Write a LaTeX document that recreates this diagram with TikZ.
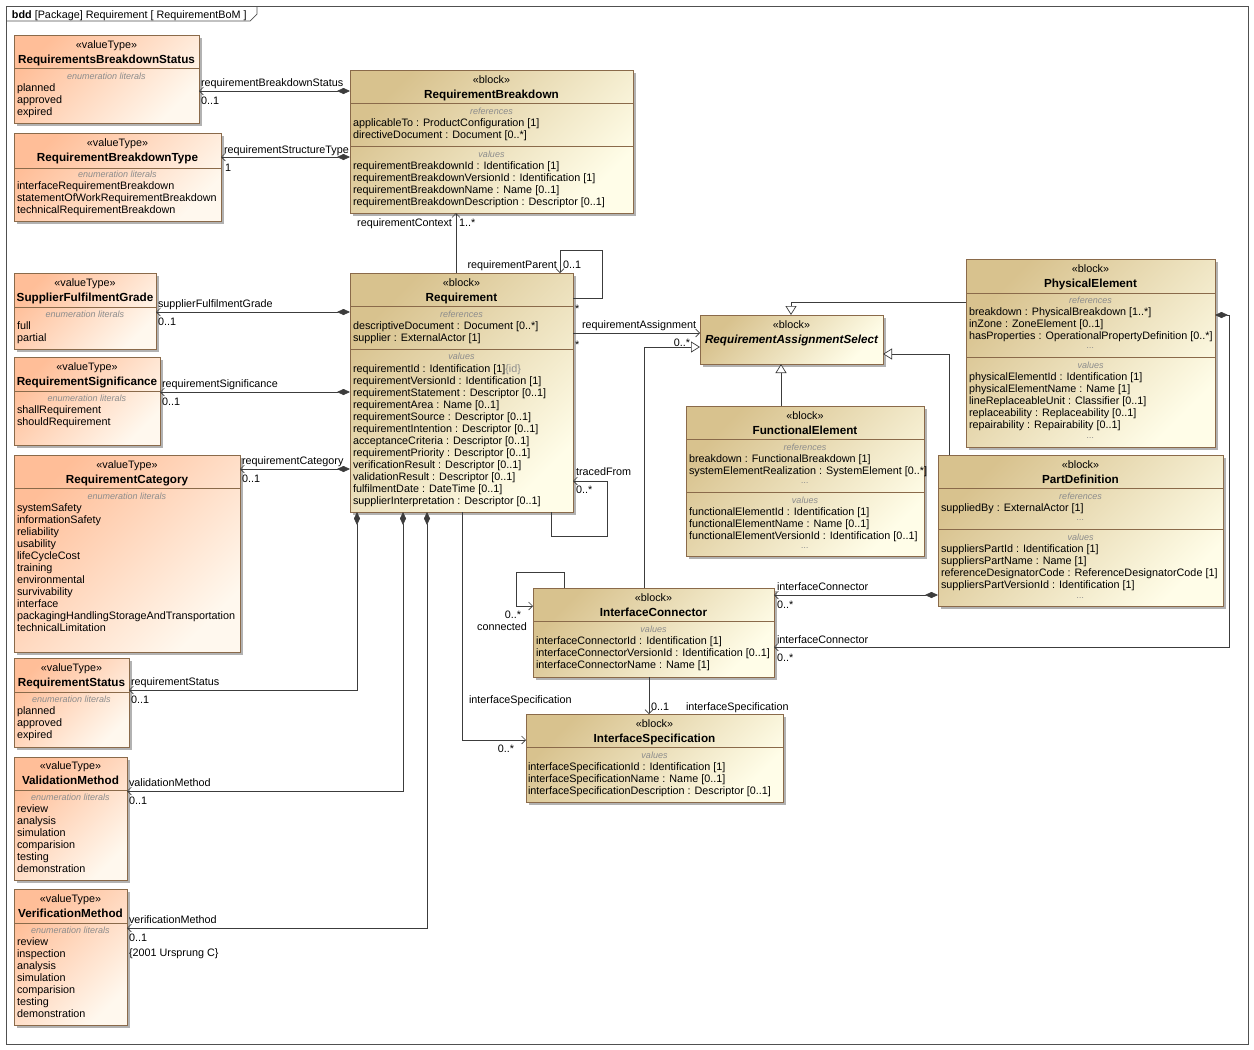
\documentclass[tikz,border=0pt]{standalone}
\usepackage{fontspec}
\setmainfont{Liberation Sans}
\usetikzlibrary{arrows.meta,shadows}
\definecolor{vtA}{HTML}{FFBE98}
\definecolor{vtB}{HTML}{FFF8EE}
\definecolor{blA}{HTML}{D8C28E}
\definecolor{blB}{HTML}{FFFDE8}
\definecolor{bord}{HTML}{8A6A4A}
\definecolor{lgray}{HTML}{8C8C8C}
\definecolor{lnc}{HTML}{3C3C3C}
\definecolor{frc}{HTML}{505050}
\newcounter{tn}
\newcommand\bfont{\fontsize{11.7}{12}\selectfont\bfseries}
\newcommand\Tl[3]{\stepcounter{tn}\node[txt,anchor=base west] (t\arabic{tn}) at (#1,#2+4) {#3};}
\newcommand\Tr[3]{\stepcounter{tn}\node[txt,anchor=base east] (t\arabic{tn}) at (#1,#2+4) {#3};}
\newcommand\Tc[3]{\stepcounter{tn}\node[txt,anchor=base] (t\arabic{tn}) at (#1.north |- 0,#2+4) {#3};}
\newcommand\Tb[3]{\stepcounter{tn}\node[txt,anchor=base,font=\bfont] (t\arabic{tn}) at (#1.north |- 0,#2+4) {#3};}
\newcommand\Tk[3]{\stepcounter{tn}\node[cmp,anchor=base] (t\arabic{tn}) at (#1.north |- 0,#2+3) {#3};}
\newcommand\Tls[3]{\foreach \s [count=\i from 0] in {#3}{\Tl{#1}{#2+12*\i}{\s}}}
\newcommand\mkbox[6]{\node[#1,minimum width={#5-#3},minimum height={#6-#4},anchor=north west] (#2) at (#3,#4) {};}
\newcommand\cmpsep[2]{\draw[bordline] (#1.west |- 0,#2) -- (#1.east |- 0,#2);}
\begin{document}
\begin{tikzpicture}[x=1pt,y=-1pt,
  vt/.style={draw=bord,line width=0.8pt,left color=vtA,right color=vtB,shading angle=45,inner sep=0,outer sep=0,
    drop shadow={shadow xshift=3pt,shadow yshift=-3pt,fill=black,opacity=0.3}},
  bl/.style={vt,left color=blA,right color=blB,shading angle=45},
  bordline/.style={draw=bord,line width=0.8pt},
  txt/.style={inner sep=0,outer sep=0,font=\fontsize{10.8}{12}\selectfont,text=black},
  cmp/.style={txt,font=\fontsize{9}{10}\selectfont\itshape,text=lgray},
  ln/.style={draw=lnc,line width=0.7pt},
  comp/.style={ln,{Diamond[length=13pt,width=6pt,fill=lnc]}-{Straight Barb[length=4pt,width=8pt,line width=0.6pt]}},
  assoc/.style={ln,-{Straight Barb[length=4pt,width=8pt,line width=0.6pt]}},
  gen/.style={ln,-{Triangle[length=9pt,width=11pt,fill=white]}}
]
\useasboundingbox (0,0) rectangle (1254,1050);
\fill[white] (0,0) rectangle (1254,1050);
% frame
\draw[frc,line width=0.7pt] (6,6) rectangle (1248,1044);
\draw[frc,line width=0.7pt] (6,21) -- (250,21) -- (257,14) -- (257,6);
\node[txt,anchor=base west] (title) at (12,18) {\textbf{bdd} [Package] Requirement [ RequirementBoM ]};

% boxes
\mkbox{vt}{rbs}{14}{35}{199}{123}
\mkbox{vt}{rbt}{14}{133}{221}{221}
\mkbox{bl}{rb}{350}{70}{633}{213}
\mkbox{vt}{sfg}{14}{273}{156}{349}
\mkbox{vt}{rsig}{14}{357}{160}{445}
\mkbox{vt}{rcat}{14}{455}{240}{652}
\mkbox{vt}{rst}{14}{658}{129}{747}
\mkbox{vt}{valm}{14}{757}{127}{880}
\mkbox{vt}{verm}{14}{889}{127}{1025}
\mkbox{bl}{req}{350}{273}{573}{512}
\mkbox{bl}{ras}{700}{315}{883}{364}
\mkbox{bl}{fe}{686}{406}{924}{556}
\mkbox{bl}{pe}{966}{259}{1215}{447}
\mkbox{bl}{pd}{938}{455}{1223}{606}
\mkbox{bl}{ic}{533}{588}{774}{677}
\mkbox{bl}{is}{526}{714}{783}{802}

% compartments
\cmpsep{rbs}{68} \cmpsep{rbt}{168}
\cmpsep{rb}{103} \cmpsep{rb}{146}
\cmpsep{sfg}{307} \cmpsep{rsig}{391} \cmpsep{rcat}{488}
\cmpsep{rst}{692} \cmpsep{valm}{790} \cmpsep{verm}{923}
\cmpsep{req}{306} \cmpsep{req}{349}
\cmpsep{fe}{439} \cmpsep{fe}{492}
\cmpsep{pe}{293} \cmpsep{pe}{357}
\cmpsep{pd}{488} \cmpsep{pd}{529}
\cmpsep{ic}{621} \cmpsep{is}{747}

% connectors
\draw[comp] (rb.west |- 0,91) -- (rbs.east |- 0,91);
\draw[comp] (rb.west |- 0,157) -- (rbt.east |- 0,157);
\draw[assoc] (req.north -| 456,0) -- (rb.south -| 456,0);
\draw[assoc] (req.east |- 0,298) -| (602,250) -| (req.north -| 560,0);
\draw[assoc] (req.east |- 0,333) -- (ras.west |- 0,333);
\draw[gen] (pe.west |- 0,302) -| (ras.north -| 791,0);
\draw[gen] (fe.north -| 781,0) -- (ras.south -| 781,0);
\draw[gen] (pd.north -| 949,0) |- (ras.east |- 0,354);
\draw[gen] (ic.north -| 644,0) |- (ras.west |- 0,347);
\draw[assoc] (req.south -| 551,0) |- (607,536) |- (req.east |- 0,481);
\draw[comp] (req.west |- 0,312) -- (sfg.east |- 0,312);
\draw[comp] (req.west |- 0,392) -- (rsig.east |- 0,392);
\draw[comp] (req.west |- 0,469) -- (rcat.east |- 0,469);
\draw[comp] (req.south -| 357,0) |- (rst.east |- 0,690);
\draw[comp] (req.south -| 403,0) |- (valm.east |- 0,791);
\draw[comp] (req.south -| 427,0) |- (verm.east |- 0,928);
\draw[assoc] (req.south -| 462,0) |- (is.west |- 0,740);
\draw[assoc] (ic.north -| 564,0) |- (516,572) |- (ic.west |- 0,606);
\draw[comp] (pd.west |- 0,595) -- (ic.east |- 0,595);
\draw[comp] (pe.east |- 0,315) -- (1229,315) |- (ic.east |- 0,647);
\draw[assoc] (ic.south -| 649,0) -- (is.north -| 649,0);

% connector labels
\Tl{201}{82}{requirementBreakdownStatus} \Tl{201}{100}{0..1}
\Tl{224}{149}{requirementStructureType} \Tl{225}{167}{1}
\Tr{452}{222}{requirementContext} \Tl{459}{222}{1..*}
\Tr{557}{264}{requirementParent} \Tl{563}{264}{0..1}
\Tl{575}{308}{*} \Tl{575}{344}{*}
\Tl{582}{324}{requirementAssignment}
\Tr{690}{342}{0..*}
\Tl{158}{303}{supplierFulfilmentGrade} \Tl{158}{321}{0..1}
\Tl{162}{383}{requirementSignificance} \Tl{162}{401}{0..1}
\Tl{242}{460}{requirementCategory} \Tl{242}{478}{0..1}
\Tl{576}{471}{tracedFrom} \Tl{576}{489}{0..*}
\Tl{131}{681}{requirementStatus} \Tl{131}{699}{0..1}
\Tl{129}{782}{validationMethod} \Tl{129}{800}{0..1}
\Tl{129}{919}{verificationMethod} \Tl{129}{937}{0..1}
\Tl{129}{952}{\{2001 Ursprung C\}}
\Tl{469}{699}{interfaceSpecification} \Tr{514}{748}{0..*}
\Tr{521}{614}{0..*} \Tr{527}{626}{connected}
\Tl{777}{586}{interfaceConnector} \Tl{777}{604}{0..*}
\Tl{777}{639}{interfaceConnector} \Tl{777}{657}{0..*}
\Tl{651}{706}{0..1} \Tl{686}{706}{interfaceSpecification}

% box texts
\Tc{rbs}{44}{«valueType»} \Tb{rbs}{59}{RequirementsBreakdownStatus} \Tk{rbs}{76}{enumeration literals}
\Tls{17}{87}{planned,approved,expired}

\Tc{rbt}{142}{«valueType»} \Tb{rbt}{157}{RequirementBreakdownType} \Tk{rbt}{174}{enumeration literals}
\Tls{17}{185}{interfaceRequirementBreakdown,statementOfWorkRequirementBreakdown,technicalRequirementBreakdown}

\Tc{rb}{79}{«block»} \Tb{rb}{94}{RequirementBreakdown} \Tk{rb}{111}{references}
\Tls{353}{122}{applicableTo : ProductConfiguration [1],directiveDocument : Document [0..*]}
\Tk{rb}{154}{values}
\Tls{353}{165}{requirementBreakdownId : Identification [1],requirementBreakdownVersionId : Identification [1],requirementBreakdownName : Name [0..1],requirementBreakdownDescription : Descriptor [0..1]}

\Tc{sfg}{282}{«valueType»} \Tb{sfg}{297}{SupplierFulfilmentGrade} \Tk{sfg}{314}{enumeration literals}
\Tls{17}{325}{full,partial}

\Tc{rsig}{366}{«valueType»} \Tb{rsig}{381}{RequirementSignificance} \Tk{rsig}{398}{enumeration literals}
\Tls{17}{409}{shallRequirement,shouldRequirement}

\Tc{rcat}{464}{«valueType»} \Tb{rcat}{479}{RequirementCategory} \Tk{rcat}{496}{enumeration literals}
\Tls{17}{507}{systemSafety,informationSafety,reliability,usability,lifeCycleCost,training,environmental,survivability,interface,packagingHandlingStorageAndTransportation,technicalLimitation}

\Tc{rst}{667}{«valueType»} \Tb{rst}{682}{RequirementStatus} \Tk{rst}{699}{enumeration literals}
\Tls{17}{710}{planned,approved,expired}

\Tc{valm}{765}{«valueType»} \Tb{valm}{780}{ValidationMethod} \Tk{valm}{797}{enumeration literals}
\Tls{17}{808}{review,analysis,simulation,comparision,testing,demonstration}

\Tc{verm}{898}{«valueType»} \Tb{verm}{913}{VerificationMethod} \Tk{verm}{930}{enumeration literals}
\Tls{17}{941}{review,inspection,analysis,simulation,comparision,testing,demonstration}

\Tc{req}{282}{«block»} \Tb{req}{297}{Requirement} \Tk{req}{314}{references}
\Tls{353}{325}{descriptiveDocument : Document [0..*],supplier : ExternalActor [1]}
\Tk{req}{356}{values}
\Tls{353}{368}{requirementId : Identification [1]\textcolor{lgray}{\{id\}},requirementVersionId : Identification [1],requirementStatement : Descriptor [0..1],requirementArea : Name [0..1],requirementSource : Descriptor [0..1],requirementIntention : Descriptor [0..1],acceptanceCriteria : Descriptor [0..1],requirementPriority : Descriptor [0..1],verificationResult : Descriptor [0..1],validationResult : Descriptor [0..1],fulfilmentDate : DateTime [0..1],supplierInterpretation : Descriptor [0..1]}

\Tc{ras}{324}{«block»} \Tb{ras}{339}{\itshape RequirementAssignmentSelect}

\Tc{fe}{415}{«block»} \Tb{fe}{430}{FunctionalElement} \Tk{fe}{447}{references}
\Tls{689}{458}{breakdown : FunctionalBreakdown [1],systemElementRealization : SystemElement [0..*]}
\Tk{fe}{480}{...}
\Tk{fe}{500}{values}
\Tls{689}{511}{functionalElementId : Identification [1],functionalElementName : Name [0..1],functionalElementVersionId : Identification [0..1]}
\Tk{fe}{545}{...}

\Tc{pe}{268}{«block»} \Tb{pe}{283}{PhysicalElement} \Tk{pe}{300}{references}
\Tls{969}{311}{breakdown : PhysicalBreakdown [1..*],inZone : ZoneElement [0..1],hasProperties : OperationalPropertyDefinition [0..*]}
\Tk{pe}{345}{...}
\Tk{pe}{365}{values}
\Tls{969}{376}{physicalElementId : Identification [1],physicalElementName : Name [1],lineReplaceableUnit : Classifier [0..1],replaceability : Replaceability [0..1],repairability : Repairability [0..1]}
\Tk{pe}{435}{...}

\Tc{pd}{464}{«block»} \Tb{pd}{479}{PartDefinition} \Tk{pd}{496}{references}
\Tls{941}{507}{suppliedBy : ExternalActor [1]}
\Tk{pd}{517}{...}
\Tk{pd}{537}{values}
\Tls{941}{548}{suppliersPartId : Identification [1],suppliersPartName : Name [1],referenceDesignatorCode : ReferenceDesignatorCode [1],suppliersPartVersionId : Identification [1]}
\Tk{pd}{595}{...}

\Tc{ic}{597}{«block»} \Tb{ic}{612}{InterfaceConnector} \Tk{ic}{629}{values}
\Tls{536}{640}{interfaceConnectorId : Identification [1],interfaceConnectorVersionId : Identification [0..1],interfaceConnectorName : Name [1]}

\Tc{is}{723}{«block»} \Tb{is}{738}{InterfaceSpecification} \Tk{is}{755}{values}
\Tls{528}{766}{interfaceSpecificationId : Identification [1],interfaceSpecificationName : Name [0..1],interfaceSpecificationDescription : Descriptor [0..1]}
\end{tikzpicture}
\end{document}
